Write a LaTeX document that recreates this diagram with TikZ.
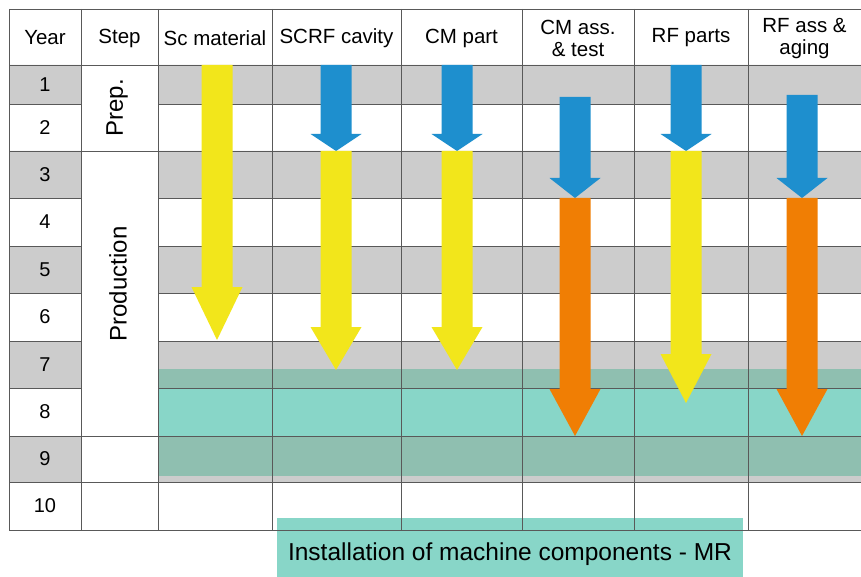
\documentclass[tikz,border=0pt]{standalone}
\usepackage{fontspec}
\setmainfont{Liberation Sans}
\usepackage{xcolor}
\definecolor{rowgray}{HTML}{CCCCCC}
\definecolor{gridline}{HTML}{595959}
\definecolor{myyellow}{HTML}{F2E61B}
\definecolor{myblue}{HTML}{1E8FCE}
\definecolor{myorange}{HTML}{F07E04}
\definecolor{bandteal}{HTML}{88D6C8}
\definecolor{bandgray}{HTML}{8FBFB0}
\usepackage{tikz}
% block arrow: colour, x of axis, top, start of head, tip
\newcommand\blockarrow[5]{%
  \fill[#1] (#2-15.5,#3) -- (#2+15.5,#3) -- (#2+15.5,#4) -- (#2+25.5,#4)
    -- (#2,#5) -- (#2-25.5,#4) -- (#2-15.5,#4) -- cycle;}

\begin{document}
\begin{tikzpicture}[x=1pt,y=-1pt,
    head/.style={align=center,font=\fontsize{20.5}{22.5}\selectfont},
    yearnum/.style={font=\fontsize{20}{22}\selectfont},
    stepname/.style={rotate=90,font=\fontsize{24}{26}\selectfont}]
      \useasboundingbox[fill=white] (0,0) rectangle (861,577);
      % grey rows
      \foreach \ya/\yb in {65/104,151/198,246/293,341/388,436/482}
        \fill[rowgray] (9,\ya) rectangle (81,\yb) (158,\ya) rectangle (861,\yb);
      % installation band
      \fill[bandgray] (158,369) rectangle (861,476);
      \fill[bandteal] (158,388) rectangle (861,436);
      \fill[bandteal] (277,518) rectangle (743,580);
      % grid
      \draw[gridline, line width=0.8pt] (9,9) -- (861,9) (9,65) -- (861,65)
        (9,151) -- (861,151) (9,436) -- (861,436) (9,482) -- (861,482) (9,530) -- (861,530);
      \draw[gridline, line width=0.8pt] foreach \y in {104,198,246,293,341,388}{(9,\y) -- (81,\y) (158,\y) -- (861,\y)};
      \draw[gridline, line width=0.8pt] foreach \x in {9,81,158,272,401,522,634,748}{(\x,9) -- (\x,530)};
      % arrows
      \blockarrow{myyellow}{217}{65}{287}{340}
      \blockarrow{myblue}{336}{65}{134}{151}
      \blockarrow{myyellow}{336}{151}{327}{370}
      \blockarrow{myblue}{457}{65}{134}{151}
      \blockarrow{myyellow}{457}{151}{327}{370}
      \blockarrow{myblue}{575}{97}{178}{198}
      \blockarrow{myorange}{575}{198}{389}{436}
      \blockarrow{myblue}{686}{65}{134}{151}
      \blockarrow{myyellow}{686}{151}{354}{403}
      \blockarrow{myblue}{802}{95}{178}{198}
      \blockarrow{myorange}{802}{198}{389}{436}
      % header
      \node[head] (year) at (45,38) {Year};
      \node[head] (step) at (119.5,38) {Step};
      \node[head] (scmat) at (215,38) {Sc material};
      \node[head] (scrf) at (336.5,38) {SCRF cavity};
      \node[head] (cmpart) at (461.5,38) {CM part};
      \node[head] (cmass) at (578,38.5) {CM ass.\\\& test};
      \node[head] (rfparts) at (691,38) {RF parts};
      \node[head] (rfass) at (804.5,38.5) {RF ass \&\\aging};
      % years and steps
      \foreach \n/\y in {1/84.5,2/127.5,3/174.5,4/222,5/269.5,6/317,7/364.5,8/412,9/459,10/506}
        \node[yearnum] (y\n) at (45,\y) {\n};
      \node[stepname] (prep) at (117,108) {Prep.};
      \node[stepname] (prod) at (118,284) {Production};
      \node[font=\fontsize{24.5}{27}\selectfont] (install) at (510,554) {Installation of machine components - MR};
\end{tikzpicture}
\end{document}
